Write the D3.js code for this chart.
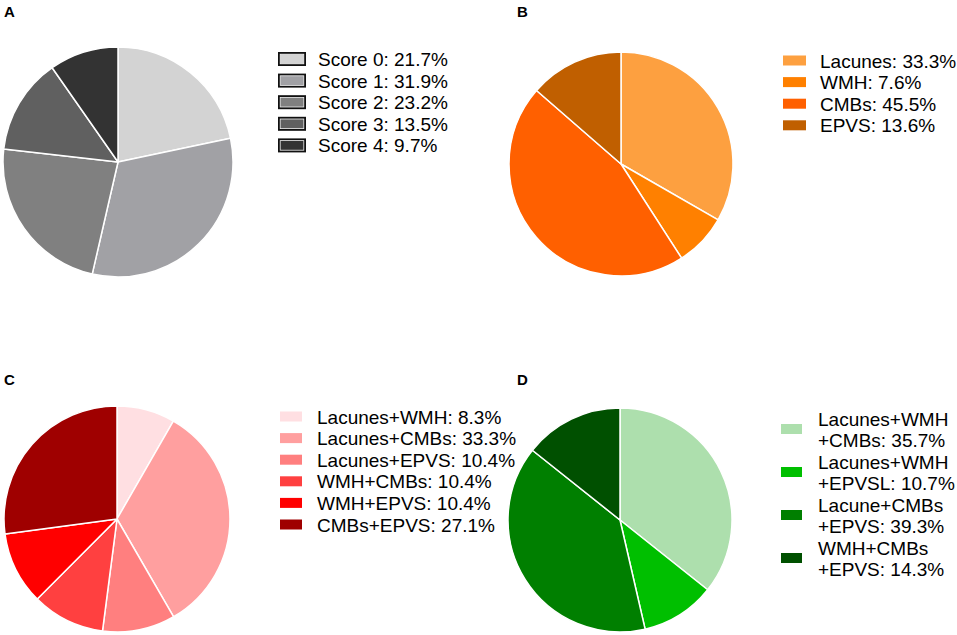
<!DOCTYPE html>
<html>
<head>
<meta charset="utf-8">
<script src="https://cdn.jsdelivr.net/npm/d3@7"></script>
<style>
  body { margin: 0; background: #fff; }
  svg { display: block; font-family: "Liberation Sans", Arial, sans-serif; }
</style>
</head>
<body>
<svg id="chart" width="957" height="635"></svg>
<script>
// ---- Data ----
const labelsA = ["Score 0: 21.7%", "Score 1: 31.9%", "Score 2: 23.2%", "Score 3: 13.5%", "Score 4: 9.7%"];
const valuesA = [21.7, 31.9, 23.2, 13.5, 9.7];
const colorsA = ["#d3d3d3", "#a1a1a5", "#808080", "#606060", "#333333"];

const labelsB = ["Lacunes: 33.3%", "WMH: 7.6%", "CMBs: 45.5%", "EPVS: 13.6%"];
const valuesB = [33.3, 7.6, 45.5, 13.6];
const colorsB = ["#fda040", "#ff8000", "#ff6000", "#c05f00"];

const labelsC = ["Lacunes+WMH: 8.3%", "Lacunes+CMBs: 33.3%", "Lacunes+EPVS: 10.4%", "WMH+CMBs: 10.4%", "WMH+EPVS: 10.4%", "CMBs+EPVS: 27.1%"];
const valuesC = [8.3, 33.3, 10.4, 10.4, 10.4, 27.1];
const colorsC = ["#ffdfe2", "#ff9f9f", "#ff7f7f", "#ff4040", "#ff0000", "#9f0000"];

const labelsD = [["Lacunes+WMH", "+CMBs: 35.7%"], ["Lacunes+WMH", "+EPVSL: 10.7%"], ["Lacune+CMBs", "+EPVS: 39.3%"], ["WMH+CMBs", "+EPVS: 14.3%"]];
const valuesD = [35.7, 10.7, 39.3, 14.3];
const colorsD = ["#addfad", "#00bf00", "#007f00", "#005000"];

// ---- Layout ----
const panels = [
  { letter: "A", lx: 4, ly: 17, cx: 118, cy: 162, r: 115, values: valuesA, colors: colorsA, labels: labelsA,
    legX: 278, legY: 59, legStep: 21.6, boxW: 28, boxH: 14, framed: true, textX: 318, twoLine: false },
  { letter: "B", lx: 517, ly: 17, cx: 621, cy: 164, r: 112, values: valuesB, colors: colorsB, labels: labelsB,
    legX: 783, legY: 60.5, legStep: 21.6, boxW: 23, boxH: 10, framed: false, textX: 820, twoLine: false },
  { letter: "C", lx: 4, ly: 385, cx: 117, cy: 519, r: 113, values: valuesC, colors: colorsC, labels: labelsC,
    legX: 280, legY: 416.5, legStep: 21.6, boxW: 22, boxH: 10, framed: false, textX: 317, twoLine: false },
  { letter: "D", lx: 517, ly: 385, cx: 620, cy: 520, r: 112, values: valuesD, colors: colorsD, labels: labelsD,
    legX: 781, legY: 429, legStep: 43, boxW: 21, boxH: 10, framed: false, textX: 818, twoLine: true }
];

const svg = d3.select("#chart");
const pie = d3.pie().sort(null).value(d => d);

panels.forEach(p => {
  svg.append("text")
    .attr("x", p.lx).attr("y", p.ly)
    .attr("font-size", 15).attr("font-weight", "bold")
    .attr("fill", "#000")
    .text(p.letter);

  const arc = d3.arc().innerRadius(0).outerRadius(p.r);
  const color = d3.scaleOrdinal().domain(d3.range(p.values.length)).range(p.colors);
  const g = svg.append("g").attr("transform", `translate(${p.cx},${p.cy})`);
  g.selectAll("path")
    .data(pie(p.values))
    .join("path")
    .attr("d", arc)
    .attr("fill", (d, i) => color(i))
    .attr("stroke", "#fff")
    .attr("stroke-width", 1.5)
    .attr("stroke-linejoin", "round");

  const leg = svg.append("g");
  const y = d3.scaleLinear().domain([0, 1]).range([p.legY, p.legY + p.legStep]);
  p.labels.forEach((lab, i) => {
    const cy = y(i);
    if (p.framed) {
      leg.append("rect")
        .attr("x", p.legX).attr("y", cy - p.boxH / 2)
        .attr("width", p.boxW).attr("height", p.boxH)
        .attr("fill", "#111");
      leg.append("rect")
        .attr("x", p.legX + 2.2).attr("y", cy - p.boxH / 2 + 2.2)
        .attr("width", p.boxW - 4.4).attr("height", p.boxH - 4.4)
        .attr("fill", color(i))
        .attr("stroke", "#f0f0f0").attr("stroke-width", 0.8);
    } else {
      leg.append("rect")
        .attr("x", p.legX).attr("y", cy - p.boxH / 2)
        .attr("width", p.boxW).attr("height", p.boxH)
        .attr("fill", color(i));
    }
    if (p.twoLine) {
      leg.append("text").attr("x", p.textX).attr("y", cy - 3)
        .attr("font-size", 19).attr("fill", "#000").text(lab[0]);
      leg.append("text").attr("x", p.textX).attr("y", cy + 18)
        .attr("font-size", 19).attr("fill", "#000").text(lab[1]);
    } else {
      leg.append("text").attr("x", p.textX).attr("y", cy + 7)
        .attr("font-size", 19).attr("fill", "#000").text(lab);
    }
  });
});
</script>
</body>
</html>
